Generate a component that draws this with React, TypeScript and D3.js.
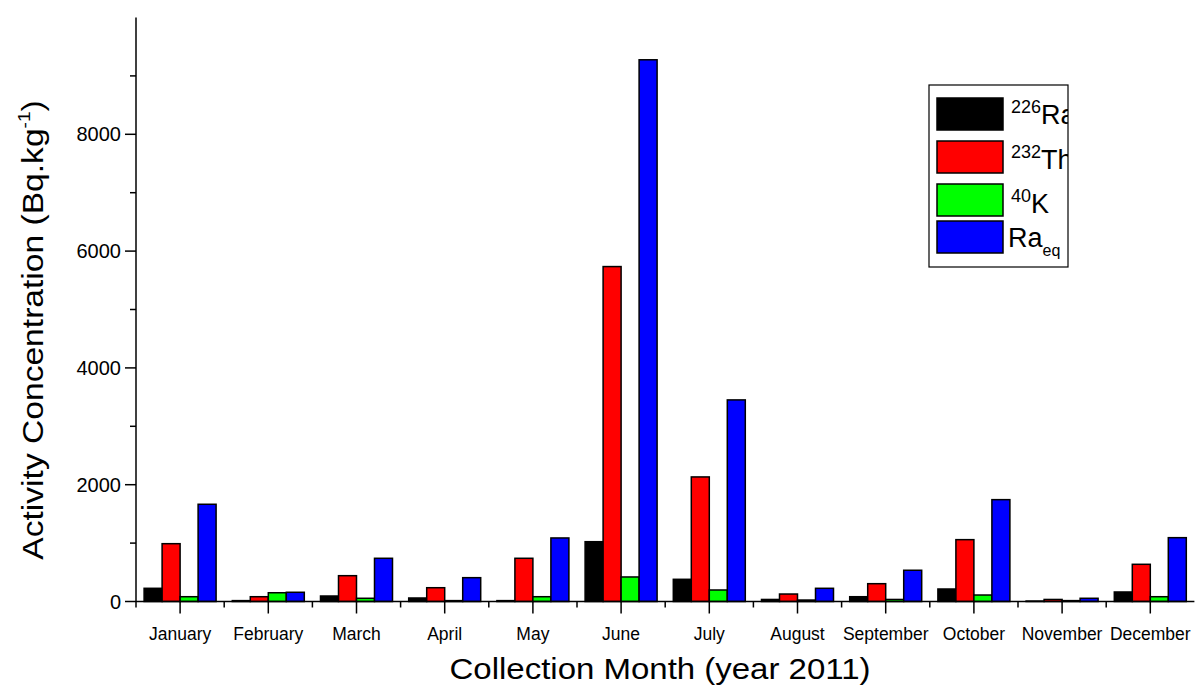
import React from "react";
import * as d3 from "d3";

// chart data (Bq/kg)
const months = [
  "January", "February", "March", "April", "May", "June",
  "July", "August", "September", "October", "November", "December",
];
const ra226 = [226, 15, 94, 60, 15, 1024, 380, 35, 82, 214, 8, 163];
const th232 = [990, 82, 442, 236, 740, 5735, 2133, 128, 305, 1059, 35, 637];
const k40 = [82, 150, 55, 15, 82, 420, 197, 25, 35, 111, 15, 82];
const raEq = [1665, 158, 740, 408, 1088, 9276, 3452, 226, 535, 1744, 55, 1093];
const yTicks = [0, 2000, 4000, 6000, 8000];
const yMinorTicks = [1000, 3000, 5000, 7000, 9000];

const seriesNames = ["ra", "th", "k", "raeq"];
const seriesValues = [ra226, th232, k40, raEq];
const colors = ["#000000", "#ff0000", "#00ff00", "#0000ff"];

const width = 1195;
const height = 687;
const margin = { top: 17.5, left: 136, bottom: 601.5 };
const bandW = 88.2;
const font = "Liberation Sans, Arial, sans-serif";

export default function App() {
  // outer band per month, inner band per series
  const x0 = d3.scaleBand<string>()
    .domain(months)
    .range([margin.left, margin.left + bandW * months.length])
    .padding(0);
  const x1 = d3.scaleBand<string>()
    .domain(seriesNames)
    .range([0, x0.bandwidth()])
    .paddingInner(0)
    .paddingOuter(0.45);
  const y = d3.scaleLinear().domain([0, 10000]).range([margin.bottom, margin.top]);

  const xEnd = margin.left + bandW * months.length;

  // legend box and rows (swatch top)
  const legend = { x: 929, y: 85, w: 139, h: 182 };
  const legendRows = [98, 141, 184, 221];

  return (
    <svg
      width={width}
      height={height}
      style={{ position: "absolute", left: 0, top: 0, background: "#fff" }}
      fontFamily={font}
    >
      <defs>
        <clipPath id="legend-clip">
          <rect x={legend.x} y={legend.y} width={legend.w} height={legend.h} />
        </clipPath>
      </defs>

      {/* bars */}
      {months.map((m, i) => (
        <g key={m} transform={`translate(${x0(m)},0)`}>
          {seriesNames.map((s, j) => {
            const v = seriesValues[j][i];
            return (
              <rect
                key={s}
                x={x1(s)}
                y={y(v)}
                width={x1.bandwidth()}
                height={y(0) - y(v)}
                fill={colors[j]}
                stroke="#000"
                strokeWidth={1.5}
              />
            );
          })}
        </g>
      ))}

      {/* y axis */}
      <line x1={margin.left} x2={margin.left} y1={margin.top} y2={margin.bottom} stroke="#000" strokeWidth={1.5} />
      {yTicks.map((t) => (
        <g key={t}>
          <line x1={margin.left - 11} x2={margin.left} y1={y(t)} y2={y(t)} stroke="#000" strokeWidth={1.5} />
          <text x={margin.left - 15} y={y(t)} dy="0.35em" textAnchor="end" fontSize={20}>
            {t}
          </text>
        </g>
      ))}
      {yMinorTicks.map((t) => (
        <line key={t} x1={margin.left - 6} x2={margin.left} y1={y(t)} y2={y(t)} stroke="#000" strokeWidth={1.5} />
      ))}

      {/* x axis */}
      <line x1={margin.left} x2={xEnd} y1={margin.bottom} y2={margin.bottom} stroke="#000" strokeWidth={1.5} />
      {months.map((m) => {
        const cx = (x0(m) as number) + x0.bandwidth() / 2;
        return (
          <g key={m}>
            <line x1={cx} x2={cx} y1={margin.bottom} y2={margin.bottom + 12} stroke="#000" strokeWidth={1.5} />
            <line x1={x0(m)} x2={x0(m)} y1={margin.bottom} y2={margin.bottom + 6} stroke="#000" strokeWidth={1.5} />
            <text x={cx} y={margin.bottom + 38} textAnchor="middle" fontSize={17.5}>
              {m}
            </text>
          </g>
        );
      })}

      {/* axis titles */}
      <text transform="translate(660,679) scale(1.1,1)" textAnchor="middle" fontSize={30}>
        Collection Month (year 2011)
      </text>
      <text transform="translate(43,330) rotate(-90) scale(1.12,1)" textAnchor="middle" fontSize={30}>
        Activity Concentration (Bq.kg
        <tspan fontSize={17} dy={-13}>-1</tspan>
        <tspan dy={13}>)</tspan>
      </text>

      {/* legend */}
      <rect x={legend.x} y={legend.y} width={legend.w} height={legend.h} fill="#fff" stroke="#000" strokeWidth={1.2} />
      {legendRows.map((ry, j) => (
        <rect key={j} x={937} y={ry} width={66} height={32} fill={colors[j]} stroke="#000" strokeWidth={1.5} />
      ))}
      <g clipPath="url(#legend-clip)">
        <text x={1011} y={legendRows[0] + 26} fontSize={27}>
          <tspan fontSize={18} dy={-11}>226</tspan>
          <tspan dy={11}>Ra</tspan>
        </text>
        <text x={1011} y={legendRows[1] + 28} fontSize={27}>
          <tspan fontSize={18} dy={-11}>232</tspan>
          <tspan dy={11}>Th</tspan>
        </text>
        <text x={1011} y={legendRows[2] + 29} fontSize={27}>
          <tspan fontSize={18} dy={-11}>40</tspan>
          <tspan dy={11}>K</tspan>
        </text>
        <text x={1008} y={legendRows[3] + 26} fontSize={27}>
          Ra
          <tspan fontSize={16} dy={9}>eq</tspan>
        </text>
      </g>
    </svg>
  );
}
